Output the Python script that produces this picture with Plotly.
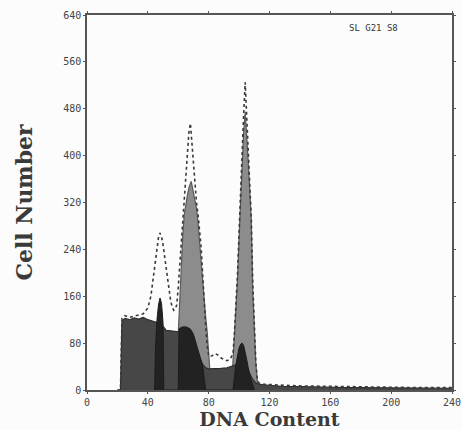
import plotly.graph_objects as go

# ---- data ----
# S-phase / background region (medium dark)
s_x = [20, 22, 23, 25, 28, 31, 34, 37, 40, 43, 46, 49, 51, 52, 55, 58, 61, 64, 67, 70, 72, 74, 76, 78, 80, 84, 88,
       92, 95, 97, 99, 101, 103, 105, 107, 109, 111, 113, 116, 120, 125, 130, 140, 150, 160, 170, 180, 190, 200,
       210, 220, 230, 240]
s_y = [0, 0, 118, 122, 120, 123, 121, 124, 120, 118, 115, 112, 105, 102, 101, 100, 100, 98, 95, 85, 70, 55, 44, 38,
       36, 36, 37, 38, 40, 42, 45, 48, 45, 38, 28, 18, 12, 10, 9, 8, 7, 6, 6, 5, 5, 4, 4, 4, 3, 3, 3, 3, 3]

# darkest components (sub-G1 spike, G1 base block, G2 base hump)
dark_x = [44.5, 45, 46, 47, 48, 49, 50, 50.5, 60, 60.5, 62, 64, 66, 68, 70, 72, 74, 76, 78,
          96, 98, 99, 100, 101, 102, 103, 104, 105, 106, 107, 108, 110]
dark_y = [0, 70, 120, 145, 157, 148, 115, 0, 0, 104, 107, 108, 107, 104, 95, 78, 58, 42, 0,
          0, 45, 60, 72, 78, 80, 76, 66, 52, 38, 26, 16, 0]

# G1 and G2 peaks (grey)
g_x = [57, 58, 59, 60, 61, 62, 63, 64, 65, 66, 67, 68, 68.5, 69, 70, 71, 72, 73, 74, 75, 76, 77, 78, 79, 80, 81, 82,
       95, 96, 97, 98, 99, 100, 101, 102, 103, 104, 105, 106, 107, 108, 109, 110, 111, 112, 113]
g_y = [0, 0, 40, 100, 160, 230, 265, 300, 318, 332, 345, 353, 356, 350, 335, 322, 310, 285, 250, 215, 185, 155, 125,
       100, 60, 25, 0,
       0, 50, 95, 140, 190, 260, 330, 390, 440, 475, 440, 390, 340, 290, 170, 90, 45, 15, 0]

# total histogram (dotted outline)
tot_x = [20, 22, 23, 25, 28, 31, 34, 37, 40, 42, 43, 44, 45, 46, 47, 48, 49, 50, 51, 52, 53, 54, 55, 56, 57, 58, 59,
         60, 61, 62, 63, 64, 65, 66, 67, 68, 69, 70, 71, 72, 73, 74, 75, 76, 77, 78, 79, 80, 82, 84, 86, 88, 90, 92,
         94, 96, 97, 98, 99, 100, 101, 102, 103, 104, 105, 106, 107, 108, 109, 110, 111, 112, 113, 115, 120, 130,
         140, 160, 180, 200, 220, 240]
tot_y = [0, 0, 122, 127, 124, 126, 128, 130, 140, 160, 180, 200, 222, 243, 260, 268, 262, 248, 228, 205, 185, 168,
         152, 142, 136, 138, 145, 175, 215, 245, 290, 330, 370, 405, 440, 455, 420, 385, 350, 320, 300, 270, 245,
         200, 150, 110, 75, 58, 58, 62, 60, 55, 52, 50, 52, 62, 100, 145, 200, 270, 345, 410, 470, 525, 470, 400,
         345, 295, 180, 95, 48, 18, 12, 10, 9, 8, 7, 6, 5, 5, 4, 4]

x_ticks = [0, 40, 80, 120, 160, 200, 240]
y_ticks = [0, 80, 160, 240, 320, 400, 480, 560, 640]

fig = go.Figure()
fig.add_trace(go.Scatter(x=g_x, y=g_y, mode="lines", fill="tozeroy",
                         line=dict(color="#5a5a5a", width=1.2), fillcolor="#8c8c8c"))
fig.add_trace(go.Scatter(x=s_x, y=s_y, mode="lines", fill="tozeroy",
                         line=dict(color="#2e2e2e", width=1.2), fillcolor="#474747"))
fig.add_trace(go.Scatter(x=dark_x, y=dark_y, mode="lines", fill="tozeroy",
                         line=dict(color="#1c1c1c", width=1), fillcolor="#222222"))
fig.add_trace(go.Scatter(x=tot_x, y=tot_y, mode="lines",
                         line=dict(color="#3a3a3a", width=1.6, dash="dot")))

fig.add_annotation(x=0.857, y=0.984, xref="paper", yref="paper", text="SL G21 S8", showarrow=False,
                   xanchor="right", yanchor="top",
                   font=dict(family="DejaVu Sans Mono", size=9, color="#333333"))

axis_common = dict(showline=True, linecolor="#555555", linewidth=1.5, mirror="ticks", ticks="outside",
                   ticklen=2, tickcolor="#555555", showgrid=False, zeroline=False, automargin=False,
                   tickfont=dict(family="DejaVu Sans Mono", size=10, color="#444444"))

fig.update_layout(
    width=462, height=430,
    margin=dict(l=87, r=10, t=15, b=40),
    paper_bgcolor="#fcfcfc", plot_bgcolor="#fcfcfc",
    showlegend=False,
    xaxis=dict(range=[0, 240], tickvals=x_ticks, ticktext=[str(v) for v in x_ticks],
               title=dict(text="DNA Content", standoff=9,
                          font=dict(family="DejaVu Serif", size=19, weight="bold", color="#3a3a3a")),
               **axis_common),
    yaxis=dict(range=[0, 640], tickvals=y_ticks, ticktext=[str(v) for v in y_ticks],
               title=dict(text="Cell Number", standoff=24,
                          font=dict(family="DejaVu Serif", size=22, weight="bold", color="#3a3a3a")),
               **axis_common),
)

# remove the default page margin so the 462x430 figure fills the window exactly
fig.write_html("out.html", config={"displayModeBar": False},
               post_script="document.body.style.margin='0';document.body.style.overflow='hidden';")
